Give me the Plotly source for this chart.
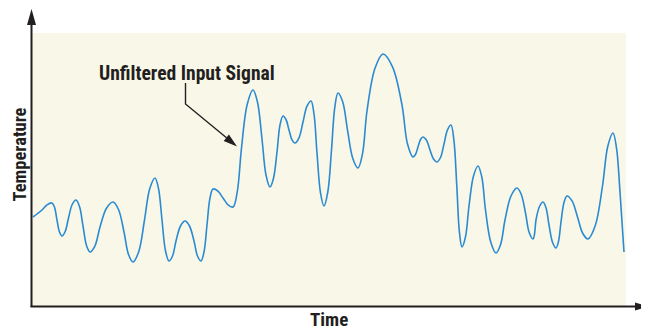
import plotly.graph_objects as go

# signal: peaks/troughs, their rounded shoulders and
# the steep mid-height crossings between them
time = [1, 10, 15, 20, 22.5, 25, 27.5, 30, 33.2, 36.5, 40.2, 44, 47.5, 51, 54.5, 58, 63,
        68, 74.5, 81, 86.5, 92, 96.5, 101, 106.8, 112.5, 117.8, 123, 126.5, 130, 133.5,
        137, 140.5, 144, 148.5, 153, 157.5, 162, 165.5, 169, 172, 175, 178, 181, 186,
        191, 196, 201, 205.2, 209.5, 215.2, 221, 225.5, 230, 234, 238, 241.5, 245, 248,
        251, 254, 257, 260, 263, 267, 271, 275, 279, 282, 285, 288.5, 292, 295.8,
        299.5, 302.8, 306, 310.8, 315.5, 320.8, 326, 330.5, 335, 343, 351, 360.5, 370,
        375.5, 381, 383.5, 386, 388.5, 391, 394.5, 398, 401.5, 405, 408.5, 412, 415.5,
        419, 421.9, 424.8, 427.4, 430, 433.5, 437, 441.5, 446, 449.8, 453.5, 458.8,
        464, 468.5, 473, 479, 485, 489.2, 493.5, 497.2, 501, 502.5, 504, 507.5, 511,
        514, 517, 520.5, 524, 526.5, 529, 532, 535, 540.2, 545.5, 550.8, 556, 563.2,
        570.5, 575.8, 581, 584.5, 588, 592]
temp = [89, 96, 101.2, 103, 98.8, 86, 74, 70, 74.5, 88, 101.5, 106, 99.5, 80, 60.5, 54, 60.2,
        79, 97.8, 104, 96.5, 74, 51.5, 44, 54.5, 86, 117.5, 128, 117.5, 86, 55.2,
        45, 50, 65, 80, 85, 80, 65, 50, 45, 54, 81, 108, 117, 114.8,
        108, 101.2, 99, 113.8, 158, 201.5, 216, 203.8, 167, 131, 119, 127.8, 154, 181,
        190, 186.5, 176, 166.2, 163, 168.2, 184, 199.8, 205, 192, 153, 113.2, 100, 114,
        156, 198.8, 213, 203.8, 176, 147.5, 138, 152.2, 195, 237.8, 252, 239.2, 201,
        162, 149, 151.5, 159, 166.5, 169, 165.8, 156, 147, 144, 148.5, 162, 176.2,
        181, 165.8, 120, 74.2, 59, 69.2, 100, 130, 140, 129, 96, 63.8,
        53, 61.2, 86, 110, 118, 111.8, 93, 73.5, 67, 71.8, 86, 99.5, 104,
        98.2, 81, 63.8, 58, 64.5, 84, 103.5, 110, 104.8, 89, 72.5, 67, 80.2,
        120, 159.8, 173, 158.2, 114, 54]

label = "Unfiltered Input Signal"
x_title = "Time"
y_title = "Temperature"

INK = "#231f20"
BLUE = "#2a8ad2"
BG = "#f9f7e7"
FONT = "Liberation Sans Narrow, Arial Narrow, Roboto Condensed, Liberation Sans, sans-serif"

W, H = 649, 330
OFF = 8  # the page body adds an 8px margin
# plot box in reference pixels
L, R, T, B = 32, 626, 33, 306


def px(x):
    return (x - L) / (R - L)


def py(y):
    return (B - y) / (B - T)


def tri(points):
    return "M" + " L".join(f"{px(x)},{py(y)}" for x, y in points) + " Z"


fig = go.Figure()
fig.add_trace(go.Scatter(
    x=time, y=temp, mode="lines",
    line=dict(color=BLUE, width=1.6, shape="spline", smoothing=1.0),
    hoverinfo="skip", showlegend=False,
))

shapes = [
    # axes with arrow heads
    dict(type="line", xref="paper", yref="paper", x0=px(31.5), x1=px(31.5), y0=py(307), y1=py(20),
         line=dict(color=INK, width=2)),
    dict(type="line", xref="paper", yref="paper", x0=px(30.5), x1=px(640), y0=py(306.5), y1=py(306.5),
         line=dict(color=INK, width=2)),
    dict(type="path", xref="paper", yref="paper", path=tri([(31.5, 9), (36, 25), (27, 25)]),
         fillcolor=INK, line=dict(width=0)),
    dict(type="path", xref="paper", yref="paper", path=tri([(649, 306.5), (635, 302.5), (635, 310.5)]),
         fillcolor=INK, line=dict(width=0)),
    # leader of the label
    dict(type="path", xref="paper", yref="paper",
         path=f"M{px(185.5)},{py(83)} L{px(185.5)},{py(104)} L{px(228)},{py(139)}",
         line=dict(color=INK, width=1.4)),
    dict(type="path", xref="paper", yref="paper",
         path=tri([(237, 146.5), (223.7, 140.9), (228.9, 134.5)]),
         fillcolor=INK, line=dict(width=0)),
]

text_font = dict(family=FONT, size=19, color=INK)
annotations = [
    dict(text=f"<b>{label}</b>", xref="paper", yref="paper", x=px(187), y=py(73),
         xanchor="center", yanchor="middle", showarrow=False,
         font=dict(family=FONT, size=19.6, color=INK)),
    dict(text=f"<b>{x_title}</b>", xref="paper", yref="paper", x=px(328.5), y=py(319.5),
         xanchor="center", yanchor="middle", showarrow=False, font=text_font),
    dict(text=f"<b>{y_title}</b>", xref="paper", yref="paper", x=px(19.5), y=py(155),
         xanchor="center", yanchor="middle", textangle=-90, showarrow=False,
         borderpad=0, font=dict(family=FONT, size=18.5, color=INK)),
]

fig.update_layout(
    width=W - OFF, height=H - OFF,
    margin=dict(l=L - OFF, r=W - R, t=T - OFF, b=H - B),
    paper_bgcolor="white", plot_bgcolor=BG,
    shapes=shapes, annotations=annotations,
    xaxis=dict(range=[0, R - L], visible=False, fixedrange=True),
    yaxis=dict(range=[0, B - T], visible=False, fixedrange=True),
)

fig.write_html("out.html")
